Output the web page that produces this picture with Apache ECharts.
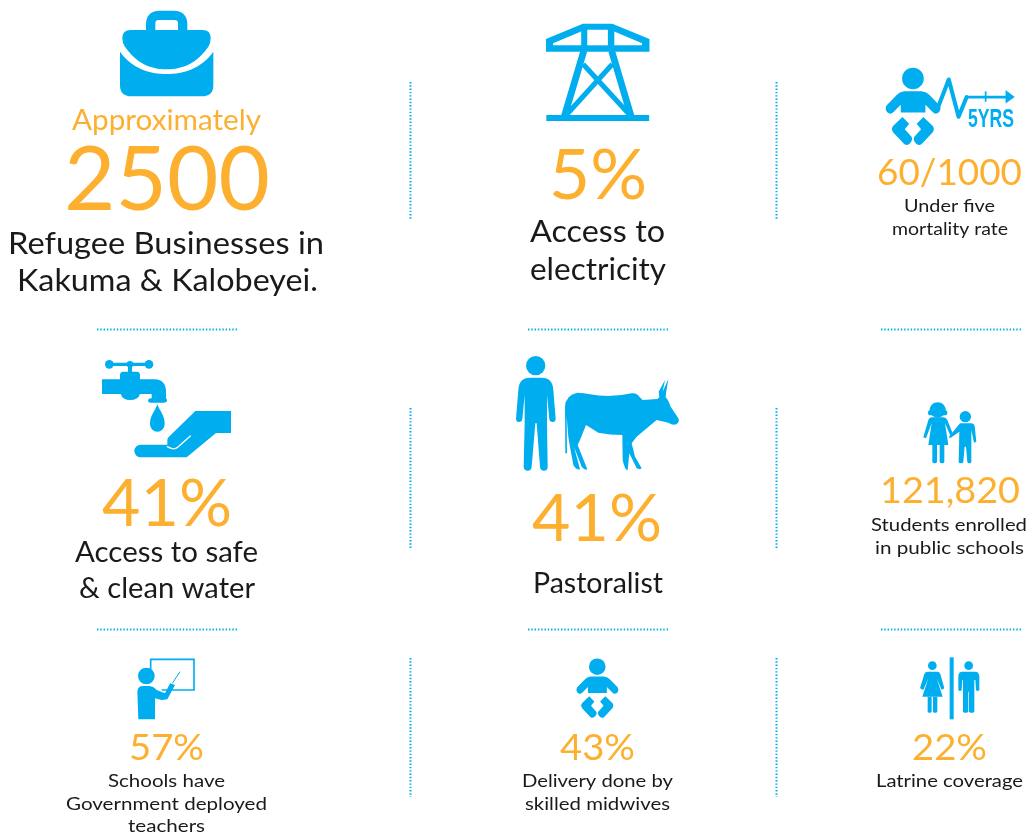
<!DOCTYPE html>
<html><head><meta charset="utf-8">
<style>html,body{margin:0;padding:0;background:#fff}#c{width:1030px;height:834px}</style>
<script src="https://cdn.jsdelivr.net/npm/echarts@6/dist/echarts.min.js"></script>
</head><body><div id="c"></div>
<script>
// ---- content ----
const headlineNote = 'Approximately';
const figures = ['2500','5%','60/1000','41%','41%','121,820','57%','43%','22%'];
const captions = [
  ['Refugee Businesses in','Kakuma & Kalobeyei.'],
  ['Access to','electricity'],
  ['Under five','mortality rate'],
  ['Access to safe','& clean water'],
  ['Pastoralist'],
  ['Students enrolled','in public schools'],
  ['Schools have','Government deployed','teachers'],
  ['Delivery done by','skilled midwives'],
  ['Latrine coverage']
];
const iconBadge = '5YRS';

// ---- styling / layout ----
const BLUE='#00AEEF', ORANGE='#FDB02F', INK='#1a1a1a', FONT='Lato';
// figure: [left, right, baseline, size]
const noteLayout=[72,261,130.5,29];
const figLayout=[[64,270,211,90],[549,647,200,70],[877,1022,185.5,37],[102,232,527,65],[532,662,542,65],[880,1020,503.5,37],[129,204,760.5,37],[560,635,760.5,37],[912,987,760.5,37]];
// caption lines: [left, right, baseline, size]
const capLayout=[
  [[8,324,254.5,31],[17,318,291.5,31]],
  [[530,665,242.5,31],[530,666,280.5,31]],
  [[904,995,212.5,18],[892,1008,235.5,18]],
  [[75,258,562.5,28],[79,255,598,28]],
  [[533,663,593.5,28]],
  [[871,1027,531.5,18],[875,1024,554.5,18]],
  [[108,225,787.5,18],[66,267,810.5,18],[128,205,832.5,18]],
  [[522,673,787.5,18],[525,670,810.5,18]],
  [[876,1023,787.5,18]]
];
const vDots=[[410.5,82,220],[776.5,82,220],[410.5,408,548],[776.5,408,548],[410.5,658,797],[776.5,658,797]];
const hDots=[[97,237.5,329.5],[528,668.5,329.5],[881,1021,329.5],[97,237.5,629.5],[528,668.5,629.5],[881,1021,629.5]];

// ---- icon drawing helpers ----
const f=(d,fill)=>({type:'path',shape:{pathData:d},style:{fill:fill||BLUE}});
const s=(d,w,col)=>({type:'path',shape:{pathData:d},style:{fill:'none',stroke:col||BLUE,lineWidth:w,lineCap:'round',lineJoin:'round'}});
const b=(d,w,col)=>({type:'path',shape:{pathData:d},style:{fill:'none',stroke:col||BLUE,lineWidth:w,lineCap:'butt',lineJoin:'miter'}});
const c=(cx,cy,r)=>({type:'circle',shape:{cx,cy,r},style:{fill:BLUE}});

const babyParts=[
  c(1221,232,32),
  f('M1195,270 L1247,270 Q1262,272 1270,281 L1300,312 Q1306,322 1298,332 Q1288,340 1280,332 L1258,310 L1258,333 L1185,333 L1185,310 L1163,332 Q1155,340 1145,332 Q1137,322 1143,312 L1173,281 Q1181,272 1195,270Z'),
  f('M1190,346 L1210,366 L1197,382 L1218,406 Q1221,414 1214,422 Q1205,433 1195,426 L1163,392 Q1155,381 1163,372 Z'),
  f('M1252,346 L1232,366 L1245,382 L1224,406 Q1221,414 1228,422 Q1237,433 1247,426 L1279,392 Q1287,381 1279,372 Z')
];
const K2=1/2.957;

const icons=[
 {x:0,y:0,k:1/3,parts:[ // briefcase
   b('M452,92 L452,72 Q452,46 478,46 L522,46 Q548,46 548,72 L548,92',28),
   f('M367,115 Q367,90 392,90 L608,90 Q632,90 632,115 Q632,130 625,140 C590,190 550,207 500,208 C450,207 410,190 375,140 Q367,130 367,115Z'),
   f('M360,155 C395,205 450,222 500,222 C550,222 605,205 640,155 L640,255 Q640,289 606,289 L394,289 Q360,289 360,255Z')
 ]},
 {x:500,y:0,k:K2,parts:[ // pylon
   f('M245,70 L332,70 L442,115 L442,153 L136,153 L136,115Z'),
   f('M240,93 L157,128 L157,134 L240,134Z','#fff'),
   f('M258,88 L319,88 L319,134 L258,134Z','#fff'),
   f('M338,93 L420,128 L420,134 L338,134Z','#fff'),
   b('M248,150 L190,345',20), b('M330,150 L388,345',20),
   b('M246,190 L384,340',15), b('M332,190 L196,340',15),
   f('M137,340 L441,340 L441,358 L137,358Z')
 ]},
 {x:500,y:0,k:K2,parts:[ // baby with timeline
   ...babyParts,
   s('M1292,326 L1327,235 L1356,345 L1380,287',12),
   s('M1380,287 L1500,287',8),
   f('M1495,266 L1522,287 L1495,306Z'),
   b('M1436,270 L1436,301',5)
 ]},
 {x:80,y:340,k:1/3,parts:[ // tap and hand
   b('M88,73 L207,73',10), c(88,73,13), c(150,73,10), c(207,73,13),
   b('M150,73 L150,100',12),
   f('M66,118 L120,118 L120,105 Q120,95 130,95 L170,95 Q180,95 180,105 L180,118 L225,118 Q258,120 258,155 L258,175 Q262,178 261,183 Q259,188 252,188 L212,188 Q205,188 204,182 Q205,175 212,175 L215,175 L215,162 L180,162 Q175,180 150,180 Q128,180 122,162 L66,162Z'),
   f('M232,193 C240,215 254,225 254,252 A22,23 0 1 1 210,252 C210,225 225,215 232,193Z'),
   f('M346,213 L453,213 L453,279 L408,279 L320,352 L182,352 A19,19 0 0 1 182,314 L262,314 L262,300 Q262,293 270,287Z'),
   s('M331,288 L293,322 Q282,332 262,320',4,'#fff')
 ]},
 {x:500,y:340,k:1/3,parts:[ // herder and cow
   c(107,77,29),
   f('M90,113 L125,113 Q158,113 160,150 L167,237 Q167,246 158,246 Q149,246 148,237 L141,165 L141,250 L143,380 Q143,392 132,392 Q121,392 120,380 L110,250 L106,250 L95,380 Q94,392 83,392 Q72,392 71,380 L74,250 L74,165 L67,237 Q66,246 57,246 Q48,246 48,237 L55,150 Q57,113 90,113Z'),
   f('M195,200 Q197,165 232,158 Q250,158 270,163 Q330,175 395,160 Q410,157 418,170 L428,180 L472,177 L478,172 L476,155 L495,120 L488,155 L505,117 L498,160 L497,172 Q505,180 512,200 L535,235 Q540,245 530,252 Q520,258 505,248 L470,240 Q440,265 410,290 L395,310 L405,350 L425,385 Q420,390 410,385 L388,340 L383,390 Q375,392 368,360 L367,285 Q330,285 295,278 L258,255 L240,300 L233,315 L262,388 Q255,392 245,380 L222,320 L240,388 Q230,392 220,375 L208,310 L205,290 L200,230 L201,340 L196,340Z')
 ]},
 {x:900,y:390,k:1/3,parts:[ // two pupils
   {type:'ellipse',shape:{cx:113,cy:60,rx:24,ry:23},style:{fill:BLUE}}, c(92,68,8), c(134,68,8),
   f('M95,82 L130,82 Q138,82 142,90 L160,135 L153,142 L135,100 L145,165 L85,165 L95,100 L78,145 L70,142 L85,90 Q88,82 95,82Z'),
   f('M97,165 L111,165 L111,215 Q111,220 104,220 Q97,220 97,215Z'),
   f('M119,165 L133,165 L133,215 Q133,220 126,220 Q119,220 119,215Z'),
   c(196,80,17),
   f('M180,100 L215,100 Q222,100 224,108 L229,155 L222,158 L214,120 L214,215 Q214,220 208,220 Q202,220 202,215 L198,170 L194,170 L190,215 Q190,220 183,220 Q176,220 176,215 L178,125 L150,145 L147,140Z')
 ]},
 {x:120,y:650,k:1/3,parts:[ // teacher
   b('M92,60 L92,28 L222,28 L222,120 L125,120',5),
   b('M157,100 L180,65',3),
   c(79,78,25),
   f('M70,108 L85,108 Q100,108 110,120 L135,130 L150,100 L165,105 L142,148 L125,150 L105,145 L105,208 L55,208 L52,125 Q52,108 70,108Z')
 ]},
 {x:279.8,y:606.4,k:0.26,parts:babyParts}, // baby
 {x:905,y:650,k:1/3,parts:[ // latrine
   c(82,47,13),
   f('M68,65 L97,65 Q103,65 106,72 L118,115 L110,120 L95,85 L113,140 L52,140 L70,85 L55,120 L45,115 L58,72 Q61,65 68,65Z'),
   f('M68,140 L80,140 L80,185 Q74,192 68,185Z'), f('M84,140 L97,140 L97,185 Q90,192 84,185Z'),
   f('M134,22 L146,22 L146,208 L134,208Z'),
   c(191,47,13),
   f('M172,65 L210,65 Q222,65 223,78 L223,120 Q218,126 213,120 L211,90 L208,90 L208,185 Q200,192 192,185 L192,125 L190,125 L190,185 Q182,192 174,185 L174,90 L172,90 L170,120 Q165,126 160,120 L160,78 Q161,65 172,65Z')
 ]}
];

// ---- text / rules ----
const ctx=document.createElement('canvas').getContext('2d');
const txt=(str,L,fill,font)=>{
  ctx.font=font; const w=ctx.measureText(str).width;
  return {type:'text',x:(L[0]+L[1])/2,y:L[2]-0.335*L[3],scaleX:(L[1]-L[0])/w,silent:true,
    style:{text:str,fill:fill,font:font,textAlign:'center',verticalAlign:'middle'}};
};
const elements=[];
elements.push(txt(headlineNote,noteLayout,ORANGE,'400 '+noteLayout[3]+'px '+FONT));
figures.forEach((t,i)=>{const L=figLayout[i];elements.push(txt(t,L,ORANGE,'400 '+L[3]+'px '+FONT));});
captions.forEach((lines,i)=>{lines.forEach((t,j)=>{const L=capLayout[i][j];elements.push(txt(t,L,INK,'400 '+L[3]+'px '+FONT));});});
const dots={stroke:BLUE,lineWidth:2,lineDash:[1.4,1.9]};
vDots.forEach(d=>elements.push({type:'line',silent:true,shape:{x1:d[0],y1:d[1],x2:d[0],y2:d[2]},style:dots}));
hDots.forEach(d=>elements.push({type:'line',silent:true,shape:{x1:d[0],y1:d[2],x2:d[1],y2:d[2]},style:dots}));
elements.push(txt(iconBadge,[968,1014,128.5,26],BLUE,'700 26px "Liberation Sans Narrow","Liberation Sans"'));

const chart=echarts.init(document.getElementById('c'),null,{renderer:'canvas'});
chart.setOption({
  animation:false,
  backgroundColor:'#fff',
  graphic:{elements:elements},
  series:[{
    type:'custom',coordinateSystem:'none',silent:true,
    data:icons.map((_,i)=>i),
    renderItem:(p)=>{const ic=icons[p.dataIndex];
      return {type:'group',x:ic.x,y:ic.y,scaleX:ic.k,scaleY:ic.k,children:ic.parts};}
  }]
});
</script></body></html>
